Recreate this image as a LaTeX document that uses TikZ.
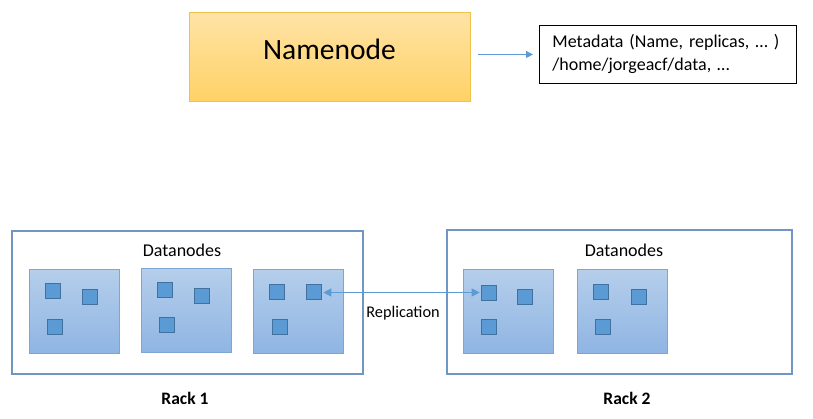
\documentclass[tikz,border=0pt]{standalone}
\usepackage{fontspec}
\setmainfont{Carlito}
\usetikzlibrary{arrows.meta}
\definecolor{gold1}{HTML}{FFE3A6}
\definecolor{gold2}{HTML}{FFD266}
\definecolor{goldline}{HTML}{EDC24B}
\definecolor{dnTop}{HTML}{B5CEEB}
\definecolor{dnBot}{HTML}{8FB5E3}
\definecolor{dnLine}{HTML}{7EA5D6}
\definecolor{sqFill}{HTML}{5B9BD5}
\definecolor{sqLine}{HTML}{41719C}
\definecolor{rackLine}{HTML}{6F96C4}
\definecolor{arr}{HTML}{5B9BD5}
\tikzset{
  dnbox/.style={draw=dnLine, line width=0.9pt, top color=dnTop, bottom color=dnBot,
    minimum width=90pt, minimum height=84pt, inner sep=0pt, anchor=north west},
  blk/.style={draw=sqLine, line width=1.6pt, fill=sqFill, minimum size=15pt, inner sep=0pt},
  rack/.style={draw=rackLine, line width=2.2pt, inner sep=0pt, anchor=north west},
  lbl/.style={font=\fontsize{18}{22}\selectfont, inner sep=0pt},
  arrowline/.style={draw=arr, line width=0.9pt},
}
\begin{document}
\begin{tikzpicture}[x=1pt,y=-1pt]
\useasboundingbox (0,0) rectangle (813,418);
% Namenode
\node[draw=goldline, line width=1pt, top color=gold1, bottom color=gold2,
  minimum width=281pt, minimum height=89pt, inner sep=0pt, anchor=north west] (nn) at (189,12) {};
\node[font=\fontsize{29.5}{34}\selectfont, inner sep=0pt] (nntext) at (329.5,49) {Namenode};
% Metadata
\node[draw=black, line width=0.9pt, anchor=north west, minimum width=257pt, minimum height=58pt,
  inner xsep=13pt, inner ysep=0pt, text width=231pt, align=left,
  font=\fontsize{18}{23}\selectfont] (meta) at (539,25)
  {Metadata (Name, replicas, … )\\/home/jorgeacf/data, …};
\draw[arrowline, -{Triangle[length=7pt,width=7pt]}, shorten <=7pt, shorten >=6pt] (nn.east |- meta.west) -- (meta.west);
% Racks
\node[rack, minimum width=351pt, minimum height=143pt] (rack1) at (11,230) {};
\node[rack, minimum width=345pt, minimum height=144pt] (rack2) at (446,229) {};
\node[lbl] (dn1) at (182,250) {Datanodes};
\node[lbl] (dn2) at (624,250) {Datanodes};
% Datanode boxes
\node[dnbox] (b1) at (29,269) {};
\node[dnbox] (b2) at (141,268) {};
\node[dnbox] (b3) at (253,269) {};
\node[dnbox] (b4) at (463,269) {};
\node[dnbox] (b5) at (577,269) {};
% blocks
\node[blk] (s11) at (53,291) {};
\node[blk] (s12) at (90,297) {};
\node[blk] (s13) at (55,327) {};
\node[blk] (s21) at (165,290) {};
\node[blk] (s22) at (202,296) {};
\node[blk] (s23) at (167,325) {};
\node[blk] (s31) at (277,292) {};
\node[blk] (s32) at (314,292) {};
\node[blk] (s33) at (280,327) {};
\node[blk] (s41) at (489,293) {};
\node[blk] (s42) at (525,297) {};
\node[blk] (s43) at (489,327) {};
\node[blk] (s51) at (601,292) {};
\node[blk] (s52) at (639,297) {};
\node[blk] (s53) at (603,327) {};
% Replication
\draw[arrowline, {Triangle[length=8pt,width=8pt]}-{Triangle[length=8pt,width=8pt]}, shorten <=1pt, shorten >=1pt]
  ([yshift=-0.5pt]s32.east) -- ([yshift=-0.5pt]s32.east -| s41.west);
\node[font=\fontsize{16.3}{20}\selectfont, inner sep=0pt] (rep) at (403,313) {Replication};
% Rack labels
\node[font=\fontsize{17.5}{21}\selectfont\bfseries, inner sep=0pt] (r1) at (185,398) {Rack 1};
\node[font=\fontsize{17.5}{21}\selectfont\bfseries, inner sep=0pt] (r2) at (627,398) {Rack 2};
\end{tikzpicture}
\end{document}
